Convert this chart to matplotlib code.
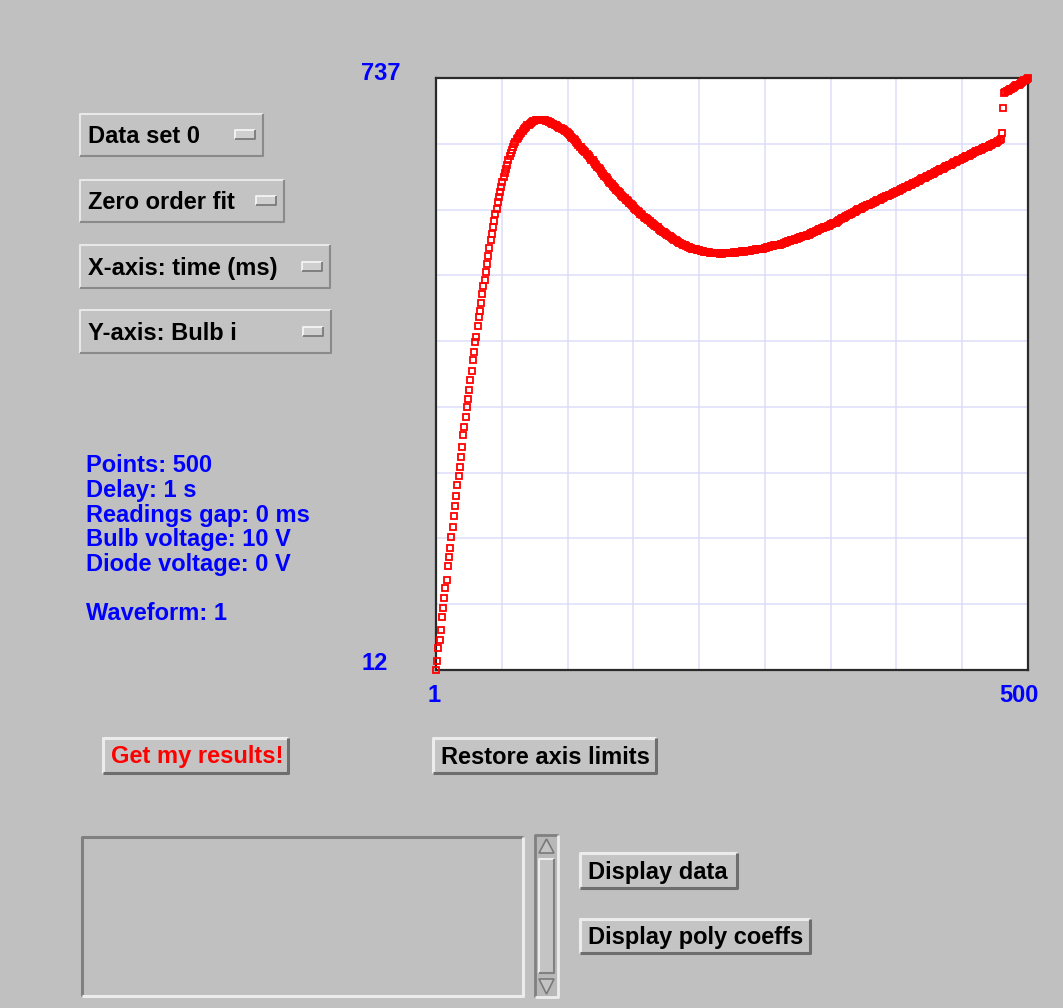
"""
Bulb current vs time: data viewer panel (screenshot recreation).
"""

import numpy as np
import matplotlib
matplotlib.use("Agg")
import matplotlib.pyplot as plt
from matplotlib.patches import Rectangle, Polygon

# ---- data -----------------------------------------------------------------
bulb_i = [
    12, 23, 39, 49, 61, 77, 88, 100, 112, 122,
    139, 150, 161, 175, 187, 201, 213, 225, 239, 249,
    261, 273, 285, 300, 310, 322, 334, 344, 355, 367,
    378, 392, 401, 414, 420, 433, 444, 452, 461, 472,
    482, 490, 499, 509, 519, 529, 538, 546, 554, 562,
    570, 577, 585, 591, 598, 604, 610, 616, 621, 626,
    631, 636, 641, 645, 649, 653, 656, 659, 662, 664,
    666, 668, 670, 672, 674, 676, 677, 679, 680, 681,
    682, 683, 684, 684, 685, 685, 686, 686, 686, 686,
    686, 685, 685, 684, 684, 683, 683, 682, 681, 681,
    680, 679, 678, 677, 676, 676, 675, 674, 673, 672,
    671, 670, 668, 667, 665, 664, 662, 661, 659, 657,
    655, 653, 652, 650, 649, 647, 646, 644, 643, 641,
    639, 637, 636, 634, 632, 630, 628, 627, 625, 623,
    621, 619, 617, 616, 614, 612, 610, 608, 607, 605,
    603, 602, 600, 599, 597, 596, 594, 593, 591, 590,
    588, 587, 586, 584, 583, 581, 580, 578, 577, 575,
    574, 573, 571, 570, 569, 567, 566, 565, 564, 563,
    562, 560, 559, 558, 557, 556, 555, 554, 552, 551,
    550, 549, 548, 547, 546, 545, 544, 543, 542, 541,
    540, 539, 538, 537, 536, 535, 535, 534, 533, 532,
    532, 531, 530, 530, 529, 529, 528, 528, 527, 527,
    526, 526, 526, 525, 525, 525, 524, 524, 524, 524,
    524, 523, 523, 523, 523, 523, 523, 523, 523, 522,
    523, 522, 523, 523, 523, 523, 523, 523, 523, 523,
    523, 524, 523, 524, 524, 524, 524, 524, 525, 525,
    524, 525, 525, 525, 525, 525, 526, 526, 526, 526,
    527, 527, 527, 527, 528, 528, 528, 529, 529, 530,
    530, 530, 531, 531, 531, 532, 532, 532, 533, 533,
    533, 534, 534, 535, 535, 536, 536, 537, 537, 538,
    538, 539, 539, 540, 540, 541, 541, 542, 542, 543,
    543, 544, 544, 545, 545, 546, 547, 547, 548, 549,
    550, 550, 551, 552, 552, 553, 553, 554, 555, 555,
    556, 556, 557, 558, 558, 559, 560, 560, 561, 562,
    563, 564, 565, 566, 566, 567, 568, 569, 569, 570,
    571, 572, 573, 573, 574, 575, 576, 577, 577, 578,
    579, 579, 580, 581, 581, 582, 583, 583, 584, 585,
    585, 586, 587, 588, 588, 589, 590, 590, 591, 592,
    592, 593, 594, 594, 595, 596, 596, 597, 598, 599,
    599, 600, 601, 601, 602, 603, 604, 604, 605, 606,
    606, 607, 608, 609, 609, 610, 611, 611, 612, 613,
    614, 614, 615, 616, 617, 617, 618, 619, 620, 620,
    621, 622, 623, 623, 624, 625, 626, 626, 627, 628,
    629, 629, 630, 631, 631, 632, 633, 634, 634, 635,
    636, 637, 637, 638, 639, 639, 640, 641, 642, 642,
    643, 644, 644, 645, 646, 647, 647, 648, 649, 649,
    650, 651, 651, 652, 653, 653, 654, 655, 655, 656,
    657, 657, 658, 659, 660, 661, 662, 670, 700, 719,
    720, 721, 721, 722, 723, 724, 725, 726, 727, 728,
    728, 729, 730, 731, 732, 733, 734, 735, 736, 737,
]
time_ms = np.arange(1, len(bulb_i) + 1)

x_limits = [1, 500]
y_limits = [12, 737]

menu_labels = ["Data set 0", "Zero order fit", "X-axis: time (ms)", "Y-axis: Bulb i"]
info_lines = ["Points: 500", "Delay: 1 s", "Readings gap: 0 ms",
              "Bulb voltage: 10 V", "Diode voltage: 0 V", "", "Waveform: 1"]

# ---- figure ---------------------------------------------------------------
W, H = 1063, 1008
BG = "#c0c0c0"
BLUE = "#0000ff"
FONT = dict(family="Liberation Sans", weight="bold", fontsize=17)

fig = plt.figure(figsize=(W / 100, H / 100), dpi=100, facecolor=BG)

# background axes in pixel coordinates (y down) for the widgets
bg = fig.add_axes([0, 0, 1, 1])
bg.set_xlim(0, W)
bg.set_ylim(H, 0)
bg.axis("off")
bg.set_facecolor(BG)


def bevel(x0, y0, x1, y1, tl, br, lw=1.5, face=None):
    if face is not None:
        bg.add_patch(Rectangle((x0, y0), x1 - x0, y1 - y0, facecolor=face,
                               edgecolor="none"))
    bg.plot([x0, x0, x1], [y1, y0, y0], color=tl, lw=lw, solid_capstyle="butt")
    bg.plot([x0, x1, x1], [y1, y1, y0], color=br, lw=lw, solid_capstyle="butt")


# option menus
menu_boxes = [(80, 114, 263, 156), (80, 180, 284, 222),
              (80, 245, 330, 288), (80, 310, 331, 353)]
for (x0, y0, x1, y1), label in zip(menu_boxes, menu_labels):
    bevel(x0, y0, x1, y1, "#e8e8e8", "#8a8a8a", face="#c3c3c3")
    yc = (y0 + y1) / 2
    bg.text(x0 + 8, yc + 1.5, label, va="center", ha="left", color="black", **FONT)
    bevel(x1 - 28, yc - 5, x1 - 8, yc + 4, "#f4f4f4", "#7a7a7a", lw=1.3,
          face="#cfcfcf")

# info text block
for k, line in enumerate(info_lines):
    bg.text(86, 466 + k * 24.6, line, va="center", ha="left", color=BLUE, **FONT)

# push buttons
buttons = [(103, 738, 288, 773, "Get my results!", "red"),
           (433, 738, 656, 773, "Restore axis limits", "black"),
           (580, 853, 737, 888, "Display data", "black"),
           (580, 919, 810, 953, "Display poly coeffs", "black")]
for x0, y0, x1, y1, label, col in buttons:
    bevel(x0, y0, x1, y1, "#ececec", "#6e6e6e", lw=2.2, face="#c4c4c4")
    bg.text(x0 + 8, (y0 + y1) / 2 + 1.5, label, va="center", ha="left",
            color=col, **FONT)

# text area and scrollbar
bevel(82, 837, 523, 996, "#808080", "#ececec", lw=2.2, face=BG)
bevel(535, 835, 558, 997, "#808080", "#ececec", lw=2.0, face="#b8b8b8")
bevel(539, 859, 554, 973, "#ececec", "#808080", lw=1.5, face="#c4c4c4")
bg.add_patch(Polygon([[539, 853], [546.5, 839], [554, 853]], closed=True,
                     facecolor="#c4c4c4", edgecolor="#7a7a7a", lw=1.2))
bg.add_patch(Polygon([[539, 979], [546.5, 994], [554, 979]], closed=True,
                     facecolor="#c4c4c4", edgecolor="#7a7a7a", lw=1.2))

# axis range labels
bg.text(400, 73, "737", va="center", ha="right", color=BLUE, **FONT)
bg.text(388, 663, "12", va="center", ha="right", color=BLUE, **FONT)
bg.text(434, 695, "1", va="center", ha="center", color=BLUE, **FONT)
bg.text(1019, 695, "500", va="center", ha="center", color=BLUE, **FONT)

# ---- plot -----------------------------------------------------------------
ax = fig.add_axes([436 / W, 1 - 670 / H, 592 / W, 592 / H])
ax.set_facecolor("white")
ax.set_xlim(x_limits)
ax.set_ylim(y_limits)
ax.set_xticks(np.linspace(x_limits[0], x_limits[1], 10))
ax.set_yticks(np.linspace(y_limits[0], y_limits[1], 10))
ax.tick_params(length=0, labelbottom=False, labelleft=False)
ax.grid(True, color="#dcdcfa", lw=1.1)
ax.set_axisbelow(True)
for sp in ax.spines.values():
    sp.set_color("#2a2a2a")
    sp.set_linewidth(1.6)

ax.plot(time_ms, bulb_i, "s", mfc="none", mec="#ff0000", ms=4.6, mew=1.3,
        clip_on=False, zorder=3)

plt.savefig("out.png", dpi=100, facecolor=fig.get_facecolor())
plt.close()
